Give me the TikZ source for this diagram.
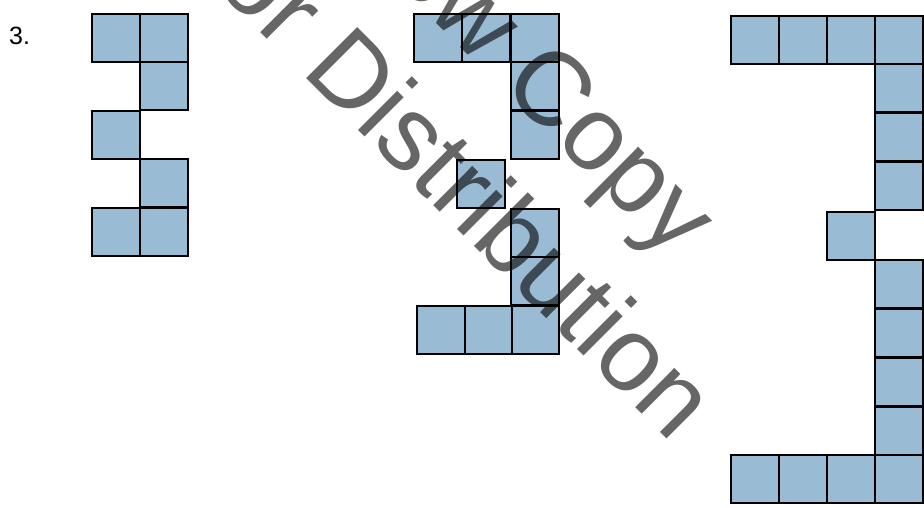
\documentclass[tikz,border=0pt]{standalone}
\usepackage{fontspec}
\setmainfont{Liberation Sans}
\definecolor{cellblue}{RGB}{154,187,212}
\tikzset{
  cell/.style={draw=black, fill=cellblue, line width=2.6pt},
  wmark/.style={text=black, text opacity=0.6, font=\fontsize{105}{126}\selectfont, rotate=-45, anchor=base west, inner sep=0pt, outer sep=0pt},
  label/.style={font=\fontsize{25}{30}\selectfont, anchor=base west, inner sep=0pt}
}
\newcommand\cellsq[3][48]{\draw[cell] (#2,#3) rectangle ++(#1,48);}
\begin{document}
\begin{tikzpicture}[x=1pt,y=-1pt]
\useasboundingbox (0,0) rectangle (924,508);
\clip (0,0) rectangle (924,508);
\node[label] (num) at (9,45) {3.};
% left figure
\cellsq{92}{14}\cellsq{140}{14}
\cellsq{140}{62}
\cellsq{92}{111}
\cellsq{140}{159}
\cellsq{92}{208}\cellsq{140}{208}
% middle figure
\cellsq{414}{14}\cellsq{462}{14}\cellsq{511}{14}
\cellsq{511}{62}
\cellsq{511}{111}
\cellsq{457}{160}
\cellsq{511}{209}
\cellsq{511}{257}
\cellsq[48]{417}{306}\cellsq[47]{465}{306}\cellsq[47]{512}{306}
% right figure
\cellsq{731}{16}\cellsq{779}{16}\cellsq{827}{16}\cellsq{875}{16}
\cellsq{875}{64}
\cellsq{875}{113}
\cellsq{875}{162}
\cellsq{827}{212}
\cellsq{875}{260}
\cellsq{875}{309}
\cellsq{875}{358}
\cellsq{875}{407}
\cellsq{731}{455}\cellsq{779}{455}\cellsq{827}{455}\cellsq{875}{455}
% watermark
\node[wmark] (wm1) at (236,-177) {Review Copy};
\node[wmark] (wm2) at (57,-171) {Not for Distribution};
\end{tikzpicture}
\end{document}
